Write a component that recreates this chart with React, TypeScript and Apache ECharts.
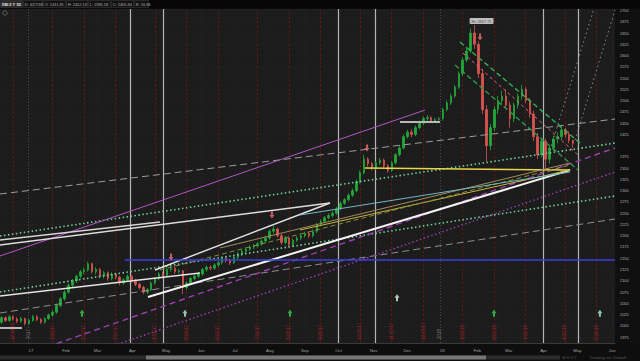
import React, { useEffect, useRef } from "react";
import * as echarts from "echarts";

// x values are days counted from 1 Jan 2017
const monthDays = [0, 31, 59, 90, 120, 151, 181, 212, 243, 273, 304, 334, 365, 396, 424, 455, 485, 516];
const monthLabels = ["17", "Feb", "Mar", "Apr", "May", "Jun", "Jul", "Aug", "Sep", "Oct", "Nov", "Dec", "18", "Feb", "Mar", "Apr", "May", "Jun"];
const yTicks = [1975, 2000, 2025, 2050, 2075, 2100, 2125, 2150, 2175, 2200, 2225, 2250, 2275, 2300, 2325, 2350, 2375, 2400, 2425, 2450, 2475, 2500, 2525, 2550, 2575, 2600, 2625, 2650, 2675, 2700];

// first week starts Mon 5 Dec 2016; two candles per week (early / late week)
const firstWeekDay = -27;

// [open, close, low, high]
const ohlc: number[][] = [
  [2008, 2018, 2004, 2022], [2018, 2012, 2009, 2021],
  [2012, 2020, 2008, 2024], [2020, 2015, 2011, 2023],
  [2015, 2010, 2006, 2019], [2010, 2016, 2007, 2020],
  [2016, 2005, 2001, 2018], [2005, 2012, 2002, 2015],
  [2012, 2020, 2009, 2024], [2020, 2014, 2010, 2023],
  [2014, 2008, 2004, 2017], [2008, 2016, 2005, 2019],
  [2016, 2024, 2013, 2027], [2024, 2030, 2020, 2034],
  [2030, 2045, 2027, 2048], [2045, 2060, 2041, 2064],
  [2060, 2075, 2056, 2079], [2075, 2090, 2071, 2094],
  [2090, 2100, 2086, 2104], [2100, 2110, 2095, 2114],
  [2110, 2120, 2105, 2124], [2120, 2124, 2115, 2129],
  [2124, 2138, 2120, 2142], [2138, 2120, 2116, 2140],
  [2120, 2125, 2114, 2130], [2125, 2110, 2106, 2128],
  [2110, 2118, 2105, 2122], [2118, 2105, 2100, 2121],
  [2105, 2115, 2101, 2119], [2115, 2108, 2103, 2118],
  [2108, 2095, 2090, 2111], [2095, 2102, 2091, 2106],
  [2102, 2110, 2098, 2114], [2110, 2100, 2096, 2113],
  [2100, 2092, 2088, 2104], [2092, 2085, 2080, 2096],
  [2085, 2075, 2070, 2089], [2075, 2080, 2071, 2084],
  [2080, 2095, 2077, 2099], [2095, 2105, 2091, 2108],
  [2105, 2115, 2101, 2119], [2115, 2112, 2107, 2120],
  [2112, 2125, 2108, 2130], [2125, 2128, 2120, 2138],
  [2128, 2120, 2115, 2132], [2120, 2122, 2116, 2126],
  [2122, 2085, 2070, 2124], [2085, 2095, 2080, 2099],
  [2095, 2105, 2091, 2109], [2105, 2110, 2101, 2114],
  [2110, 2115, 2106, 2119], [2115, 2125, 2111, 2129],
  [2125, 2130, 2120, 2134], [2130, 2128, 2123, 2134],
  [2128, 2135, 2124, 2139], [2135, 2140, 2130, 2144],
  [2140, 2150, 2136, 2154], [2150, 2145, 2140, 2153],
  [2145, 2140, 2135, 2149], [2140, 2152, 2137, 2156],
  [2152, 2160, 2148, 2164], [2160, 2165, 2155, 2169],
  [2165, 2170, 2160, 2174], [2170, 2175, 2166, 2179],
  [2175, 2178, 2170, 2182], [2178, 2182, 2174, 2186],
  [2182, 2188, 2178, 2192], [2188, 2195, 2184, 2199],
  [2195, 2210, 2191, 2214], [2210, 2215, 2205, 2222],
  [2215, 2200, 2196, 2218], [2200, 2185, 2180, 2204],
  [2185, 2195, 2181, 2199], [2195, 2180, 2175, 2198],
  [2180, 2190, 2176, 2194], [2190, 2195, 2186, 2199],
  [2195, 2200, 2190, 2204], [2200, 2205, 2196, 2209],
  [2205, 2200, 2195, 2209], [2200, 2210, 2196, 2214],
  [2210, 2225, 2206, 2229], [2225, 2232, 2221, 2236],
  [2232, 2240, 2228, 2244], [2240, 2245, 2236, 2249],
  [2245, 2250, 2240, 2254], [2250, 2260, 2246, 2264],
  [2260, 2272, 2256, 2276], [2272, 2280, 2268, 2284],
  [2280, 2290, 2276, 2294], [2290, 2300, 2286, 2305],
  [2300, 2320, 2296, 2324], [2320, 2340, 2316, 2345],
  [2340, 2370, 2336, 2380], [2370, 2360, 2354, 2374],
  [2360, 2350, 2345, 2364], [2350, 2362, 2346, 2366],
  [2362, 2368, 2357, 2373], [2368, 2355, 2350, 2371],
  [2355, 2345, 2340, 2359], [2345, 2362, 2342, 2366],
  [2362, 2380, 2358, 2384], [2380, 2395, 2376, 2399],
  [2395, 2420, 2391, 2425], [2420, 2430, 2416, 2435],
  [2430, 2425, 2418, 2436], [2425, 2440, 2421, 2445],
  [2440, 2450, 2436, 2455], [2450, 2460, 2446, 2465],
  [2460, 2462, 2455, 2468], [2462, 2455, 2450, 2466],
  [2455, 2458, 2451, 2462], [2458, 2460, 2453, 2464],
  [2460, 2480, 2456, 2484], [2480, 2495, 2476, 2500],
  [2495, 2510, 2490, 2515], [2510, 2530, 2506, 2535],
  [2530, 2560, 2526, 2565], [2560, 2590, 2555, 2596],
  [2590, 2610, 2585, 2616], [2610, 2650, 2605, 2660],
  [2650, 2625, 2615, 2667.75], [2625, 2560, 2550, 2632],
  [2560, 2480, 2470, 2570], [2480, 2400, 2365, 2490],
  [2400, 2440, 2390, 2448], [2440, 2480, 2432, 2488],
  [2480, 2500, 2470, 2510], [2500, 2510, 2490, 2522],
  [2510, 2490, 2482, 2525], [2490, 2460, 2440, 2498],
  [2460, 2490, 2452, 2496], [2490, 2510, 2482, 2516],
  [2510, 2525, 2502, 2535], [2525, 2500, 2494, 2530],
  [2500, 2470, 2462, 2506], [2470, 2420, 2410, 2478],
  [2420, 2380, 2370, 2428], [2380, 2410, 2374, 2418],
  [2410, 2370, 2348, 2416], [2370, 2395, 2360, 2402],
  [2395, 2415, 2388, 2422], [2415, 2420, 2405, 2430],
  [2420, 2435, 2412, 2440], [2435, 2425, 2418, 2440],
  [2425, 2411.81, 2405, 2432], [2411.81, 2405.44, 2395.18, 2412.13],
];

const eventDays = [87.9, 117.2, 272.5, 305.4, 454.5, 485.6];
const expiryDays = [-16, 19, 47, 75, 110, 138, 166, 201, 229, 257, 292, 320, 348, 383, 411, 439, 474, 502];
const expiryLabels = ["12/16/16", "1/20/17", "2/17/17", "3/17/17", "4/21/17", "5/19/17", "6/16/17", "7/21/17", "8/18/17", "9/15/17", "10/20/17", "11/17/17", "12/15/17", "1/19/18", "2/16/18", "3/16/18", "4/20/18", "5/18/18"];
const yearDays = [-2.5, 363];
const yearLabels = ["2017", "2018"];

// trend lines: [[day, price], [day, price]]
const trendLines: number[][][] = [
  [[-27.5, 2292.6], [518.4, 2459.1]],
  [[-27.5, 2199.3], [518.4, 2405.8]],
  [[-27.5, 2075.0], [518.4, 2288.2]],
  [[-27.5, 2028.4], [518.4, 2237.1]],
  [[-27.5, 2155.0], [349.8, 2479.1]],
  [[14.2, 1952.9], [518.4, 2394.7]],
  [[70.1, 1952.9], [518.4, 2341.4]],
  [[103.9, 2063.9], [478.5, 2345.9]],
  [[110.1, 2123.9], [265.4, 2272.6]],
  [[-27.5, 2190.5], [114.5, 2230.4]],
  [[-27.5, 2179.4], [265.4, 2272.6]],
  [[-27.5, 2066.1], [150.0, 2117.2]],
  [[327.6, 2452.4], [363.1, 2452.4]],
  [[-27.5, 1995.1], [-8.0, 1995.1]],
  [[296.5, 2350.3], [478.5, 2345.9]],
  [[238.8, 2212.7], [478.5, 2345.9]],
  [[114.5, 2123.9], [478.5, 2357.0]],
  [[167.8, 2172.7], [478.5, 2361.4]],
  [[238.8, 2246.0], [478.5, 2341.4]],
  [[380.8, 2630.1], [487.4, 2405.8]],
  [[376.4, 2579.0], [485.6, 2345.9]],
  [[383.5, 2605.6], [485.6, 2379.2]],
  [[83.4, 2146.1], [518.4, 2146.1]],
  [[483.0, 2412.5], [518.4, 2701.1]],
  [[460.7, 2390.3], [500.7, 2712.2]],
];

const upArrowDays = [45.3, 136.7, 229.9, 324.9, 411.0, 505.0];
const upArrowPrices = [2028, 2028, 2028, 2062, 2028, 2028];
const downArrowDays = [124.3, 213.9, 298.3, 398.6];
const downArrowPrices = [2153, 2246, 2395, 2641];

const headerLabels = ["XBI 2 Y 1D", "D: 4/27/18", "O: 2411.81", "H: 2412.13", "L: 2395.18", "C: 2405.44", "R: 16.94"];

// ---------- styles (kept apart from data) ----------
const trendStyles: any[] = [
  { color: "#9d9d9d", width: 1, type: [7, 4] },
  { color: "#6fd39a", width: 1.6, type: [1.5, 2.5] },
  { color: "#6fd39a", width: 1.6, type: [1.5, 2.5] },
  { color: "#8e8e8e", width: 1, type: [7, 4] },
  { color: "#b455c8", width: 1, type: "solid" },
  { color: "#9b3fb0", width: 1.4, type: [6, 4] },
  { color: "#9b3fb0", width: 1.4, type: [1.5, 2.5] },
  { color: "#f2f2f2", width: 2, type: "solid" },
  { color: "#e4e4e4", width: 1.4, type: "solid" },
  { color: "#d4d4d4", width: 1.4, type: "solid" },
  { color: "#dcdcdc", width: 1.4, type: "solid" },
  { color: "#e4e4e4", width: 1.4, type: "solid" },
  { color: "#b8b8b8", width: 2, type: "solid" },
  { color: "#b8b8b8", width: 2, type: "solid" },
  { color: "#e8d74a", width: 1.5, type: "solid" },
  { color: "#c8b43c", width: 1, type: "solid" },
  { color: "#7f8f3c", width: 1, type: [5, 3] },
  { color: "#a08c5a", width: 1, type: "solid" },
  { color: "#72b7c6", width: 1, type: "solid" },
  { color: "#35b255", width: 1.4, type: [5, 3] },
  { color: "#2b9a48", width: 1.4, type: [5, 3] },
  { color: "#e26b6b", width: 1, type: [3, 3] },
  { color: "#3c3ce6", width: 1.5, type: "solid" },
  { color: "#8a8a8a", width: 1, type: [1.5, 3] },
  { color: "#8a8a8a", width: 1, type: [1.5, 3] },
];
const upArrowColors = ["#33cc55", "#aaf2dd", "#33cc55", "#d6f5dd", "#33cc55", "#aaf2dd"];
const UP_COLOR = "#22a83a";
const DOWN_COLOR = "#d9534f";
const FONT = "Liberation Sans, Arial, sans-serif";
const UP_ARROW = "path://M5,0 L10,5 L7,5 L7,10 L3,10 L3,5 L0,5 Z";
const DOWN_ARROW = "path://M3,0 L7,0 L7,5 L10,5 L5,10 L0,5 L3,5 Z";

function candleDay(i: number) {
  const week = Math.floor(i / 2);
  return firstWeekDay + week * 7 + 0.75 + (i % 2) * 3.5;
}

function buildOption(): any {
  const candleData = ohlc.map((v, i) => [candleDay(i), v[0], v[1], v[2], v[3]]);
  const last = ohlc[ohlc.length - 1];
  const lastClose = last[1];
  // the price tag hides the tick label it sits on
  const yLabelTicks = yTicks.filter((t) => Math.abs(t - lastClose) > 8);
  let peakIdx = 0;
  ohlc.forEach((v, i) => {
    if (v[3] > ohlc[peakIdx][3]) peakIdx = i;
  });
  const peakHigh = ohlc[peakIdx][3];

  const markLines: any[] = [];
  expiryDays.forEach((d, i) =>
    markLines.push({
      xAxis: d,
      lineStyle: { color: "#5e1818", width: 1, type: [2.5, 2] },
      label: {
        show: true,
        position: "insideStart",
        formatter: expiryLabels[i],
        color: "#a02626",
        fontSize: 4.5,
        fontFamily: FONT,
        distance: 3,
      },
    })
  );
  yearDays.forEach((d, i) =>
    markLines.push({
      xAxis: d,
      lineStyle: { color: "#4a4a4a", width: 1, type: [1, 2] },
      label: {
        show: true,
        position: "insideStart",
        formatter: yearLabels[i],
        color: "#7a7a7a",
        fontSize: 4.5,
        fontFamily: FONT,
        distance: 4,
      },
    })
  );
  eventDays.forEach((d) =>
    markLines.push({
      xAxis: d,
      lineStyle: { color: "#b4b4b4", width: 1.2, type: "solid" },
      label: { show: false },
    })
  );
  markLines.push({
    yAxis: lastClose,
    lineStyle: { width: 0, opacity: 0 },
    label: {
      show: true,
      position: "end",
      formatter: lastClose.toFixed(2),
      color: "#ffffff",
      backgroundColor: "#e05252",
      fontSize: 3.8,
      fontFamily: FONT,
      padding: [1, 2, 1, 2],
      distance: 4,
    },
  });

  const lineSeries = trendLines.map((pts, i) => ({
    type: "line",
    data: pts,
    symbol: "none",
    showSymbol: false,
    silent: true,
    z: 4,
    lineStyle: trendStyles[i],
  }));

  const headerBoxes = [
    [0, 22],
    [23, 19],
    [43, 22],
    [66, 21],
    [88, 22],
    [111, 22],
    [134, 14],
  ];
  const graphic: any[] = [
    { type: "rect", shape: { x: 0, y: 0, width: 640, height: 8.5 }, style: { fill: "#060606" }, z: 100 },
    { type: "rect", shape: { x: 0, y: 343, width: 640, height: 18 }, style: { fill: "#0e0e0e" }, z: -1 },
    { type: "circle", shape: { cx: 5, cy: 13, r: 2.2 }, style: { fill: "none", stroke: "#777", lineWidth: 0.7 }, z: 100 },
    { type: "rect", shape: { x: 0, y: 355.5, width: 560, height: 4 }, style: { fill: "#2c2c2c" }, z: 100 },
    { type: "rect", shape: { x: 146, y: 355.5, width: 340, height: 4 }, style: { fill: "#767676" }, z: 100 },
    {
      type: "text",
      x: 562,
      y: 357.5,
      style: { text: "⊕ ⊖ ⊡ T", fill: "#555", fontSize: 4, fontFamily: FONT, verticalAlign: "middle" },
      z: 100,
    },
    {
      type: "text",
      x: 590,
      y: 357.5,
      style: { text: "Drawing set: Default", fill: "#5a5a5a", fontSize: 4, fontFamily: FONT, verticalAlign: "middle" },
      z: 100,
    },
  ];
  headerLabels.forEach((t, i) => {
    const [bx, bw] = headerBoxes[i];
    graphic.push({
      type: "rect",
      shape: { x: bx + 0.5, y: 0.5, width: bw, height: 7 },
      style: { fill: i === 0 ? "#2a2a2a" : "#121212", stroke: "#3c3c3c", lineWidth: 0.6 },
      z: 101,
    });
    graphic.push({
      type: "text",
      x: bx + 1.8,
      y: 4.2,
      style: {
        text: t,
        fill: i === 0 ? "#e8e8e8" : "#b5b5b5",
        fontSize: 3.9,
        fontWeight: i === 0 ? "bold" : "normal",
        fontFamily: FONT,
        verticalAlign: "middle",
      },
      z: 102,
    });
  });

  return {
    animation: false,
    backgroundColor: "#101010",
    graphic,
    grid: { left: 0, right: 25, top: 9, bottom: 18, show: true, backgroundColor: "#1c1c1c", borderWidth: 0 },
    xAxis: {
      type: "value",
      min: -27.5,
      max: 518.4,
      axisLine: { show: true, lineStyle: { color: "#3a3a3a" } },
      axisTick: { show: false, customValues: monthDays },
      splitLine: { show: true, lineStyle: { color: "#262626", type: [1, 3] } },
      axisLabel: {
        customValues: monthDays,
        formatter: (v: number) => {
          const i = monthDays.findIndex((m) => Math.abs(m - v) < 0.5);
          return i >= 0 ? monthLabels[i] : "";
        },
        color: "#a0a0a0",
        fontSize: 4.3,
        fontFamily: FONT,
        margin: 5,
      },
    },
    yAxis: {
      type: "value",
      position: "right",
      min: 1961.8,
      max: 2703.4,
      axisLine: { show: false },
      axisTick: { show: false, customValues: yTicks },
      splitLine: { show: true, lineStyle: { color: "#262626", type: [1, 3] } },
      axisLabel: {
        customValues: yLabelTicks,
        formatter: (v: number) => String(Math.round(v)),
        color: "#b0b0b0",
        fontSize: 3.9,
        fontFamily: FONT,
        margin: 5,
      },
    },
    series: [
      {
        type: "candlestick",
        data: candleData,
        barWidth: 2,
        z: 3,
        itemStyle: {
          color: UP_COLOR,
          color0: DOWN_COLOR,
          borderColor: UP_COLOR,
          borderColor0: DOWN_COLOR,
          borderWidth: 0.8,
        },
        markLine: {
          silent: true,
          symbol: ["none", "none"],
          animation: false,
          z: 2,
          data: markLines,
        },
      },
      ...lineSeries,
      {
        type: "scatter",
        silent: true,
        z: 6,
        symbol: UP_ARROW,
        symbolSize: [5, 7],
        data: upArrowDays.map((d, i) => ({ value: [d, upArrowPrices[i]], itemStyle: { color: upArrowColors[i] } })),
      },
      {
        type: "scatter",
        silent: true,
        z: 6,
        symbol: DOWN_ARROW,
        symbolSize: [5, 7],
        itemStyle: { color: "#ef6f6f" },
        data: downArrowDays.map((d, i) => [d, downArrowPrices[i]]),
      },
      {
        type: "scatter",
        silent: true,
        z: 7,
        symbolSize: 0,
        data: [[candleDay(peakIdx), peakHigh]],
        label: {
          show: true,
          position: "top",
          offset: [7, 4],
          formatter: "Hi: " + peakHigh.toFixed(2),
          backgroundColor: "#e6e6e6",
          color: "#222",
          fontSize: 3.9,
          fontFamily: FONT,
          padding: [1, 2, 1, 2],
          borderRadius: 1,
        },
      },
    ],
  };
}

export default function App() {
  const ref = useRef<HTMLDivElement>(null);
  useEffect(() => {
    if (!ref.current) return;
    const chart = echarts.init(ref.current, null, { renderer: "svg" });
    chart.setOption(buildOption());
    return () => chart.dispose();
  }, []);
  return <div ref={ref} style={{ position: "fixed", left: 0, top: 0, width: 640, height: 361 }} />;
}
